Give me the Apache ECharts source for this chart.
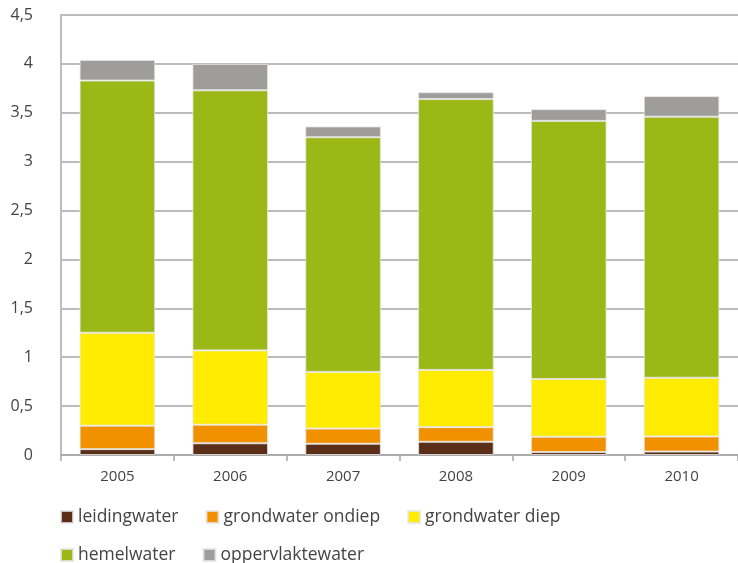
<!DOCTYPE html>
<html>
<head>
<meta charset="utf-8">
<script src="https://cdn.jsdelivr.net/npm/echarts@6/dist/echarts.min.js"></script>
<style>
  html, body { margin: 0; padding: 0; background: #fff; }
  #chart { width: 738px; height: 563px; }
</style>
</head>
<body>
<div id="chart"></div>
<script>
// jaren
var years = ['2005', '2006', '2007', '2008', '2009', '2010'];
// waarden per bron
var leidingwater     = [0.06, 0.12, 0.115, 0.135, 0.03, 0.035];
var grondwaterOndiep = [0.24, 0.19, 0.155, 0.15, 0.157, 0.155];
var grondwaterDiep   = [0.95, 0.76, 0.58, 0.585, 0.59, 0.60];
var hemelwater       = [2.58, 2.66, 2.40, 2.77, 2.64, 2.67];
var oppervlaktewater = [0.21, 0.27, 0.11, 0.07, 0.12, 0.21];
var yTicks = [0, 0.5, 1, 1.5, 2, 2.5, 3, 3.5, 4, 4.5];

var names = ['leidingwater', 'grondwater ondiep', 'grondwater diep', 'hemelwater', 'oppervlaktewater'];
var values = [leidingwater, grondwaterOndiep, grondwaterDiep, hemelwater, oppervlaktewater];
var colors = ['#5a2e17', '#f29100', '#ffec00', '#9bb817', '#9f9d9a'];

var font = '"Open Sans", sans-serif';

var series = [];
for (var i = 0; i < names.length; i++) {
    series.push({
        name: names[i],
        type: 'bar',
        stack: 'water',
        data: values[i],
        barCategoryGap: '33%',
        itemStyle: {
            color: colors[i],
            borderColor: 'rgba(230,230,230,0.8)',
            borderWidth: 1
        }
    });
}

var legendCommon = {
    left: 60,
    padding: 0,
    itemWidth: 12,
    itemHeight: 12,
    itemGap: 27,
    icon: 'rect',
    textStyle: { fontFamily: font, fontSize: 17.5, color: '#444' },
    selectedMode: false
};

var e = echarts.init(document.getElementById('chart'));
var option = {
    animation: false,
    color: colors,
    grid: { left: 61, right: -7, top: 15, bottom: 108, containLabel: false },
    legend: [
        Object.assign({}, legendCommon, { top: 508, data: names.slice(0, 3) }),
        Object.assign({}, legendCommon, { top: 546, data: names.slice(3) })
    ],
    xAxis: {
        type: 'category',
        data: years,
        axisLine: { lineStyle: { color: '#a6a6a6', width: 1.5 } },
        axisTick: { show: true, length: 6, lineStyle: { color: '#a6a6a6', width: 1.5 } },
        axisLabel: { fontFamily: font, fontSize: 15, color: '#444', margin: 14 }
    },
    yAxis: {
        type: 'value',
        min: 0,
        max: 4.5,
        interval: 0.5,
        axisLine: { show: true, lineStyle: { color: '#bdbdbd', width: 2 } },
        axisTick: { show: false },
        splitLine: { lineStyle: { color: '#a6a6a6', width: 1.5 } },
        axisLabel: {
            fontFamily: font, fontSize: 16, color: '#444', margin: 28,
            formatter: function (v) { return String(v).replace('.', ','); }
        }
    },
    series: series
};
e.setOption(option);
</script>
</body>
</html>
